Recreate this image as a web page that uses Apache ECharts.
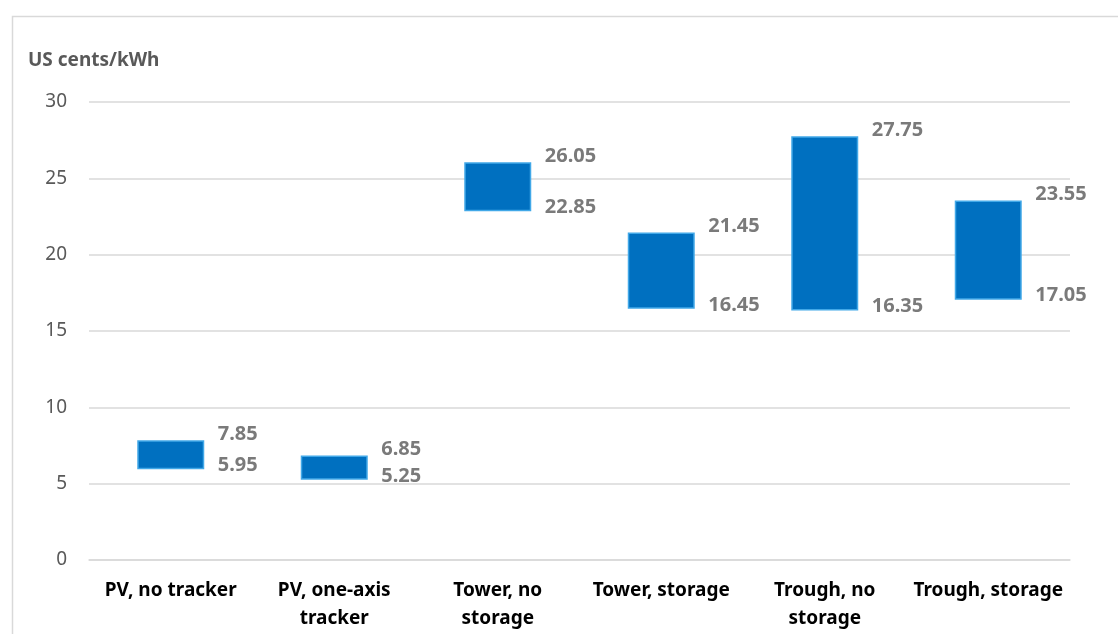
<!DOCTYPE html>
<html>
<head>
<meta charset="utf-8">
<script src="https://cdn.jsdelivr.net/npm/echarts@6/dist/echarts.min.js"></script>
<style>
  html, body { margin: 0; padding: 0; background: #fff; }
  #chart { width: 1118px; height: 634px; }
</style>
</head>
<body>
<div id="chart"></div>
<script>
// Levelised cost ranges by technology (US cents/kWh)
const categories = [
  'PV, no tracker',
  'PV, one-axis\ntracker',
  'Tower, no\nstorage',
  'Tower, storage',
  'Trough, no\nstorage',
  'Trough, storage'
];
const lowValues  = [5.95, 5.25, 22.85, 16.45, 16.35, 17.05];
const highValues = [7.85, 6.85, 26.05, 21.45, 27.75, 23.55];
const yTicks = { min: 0, max: 30, interval: 5 };

const FONT = '"Noto Sans", "Open Sans", sans-serif';
const GREY = '#595959';
const BAR = '#0070C0';
const BAR_EDGE = '#41A8E8';

const spans = highValues.map((h, i) => +(h - lowValues[i]).toFixed(2));

const valueLabel = (dy) => ({
  show: true,
  position: 'right',
  distance: 47,
  offset: [0, dy],
  color: GREY,
  fontFamily: FONT,
  fontWeight: 'bold',
  fontSize: 20,
  formatter: (p) => p.value.toFixed(2)
});

const chart = echarts.init(document.getElementById('chart'), null, { renderer: 'canvas' });

chart.setOption({
  animation: false,
  backgroundColor: '#ffffff',
  graphic: [{
    type: 'rect',
    left: 10, top: 14,
    shape: { width: 1130, height: 650 },
    style: { fill: 'none', stroke: '#D9D9D9', lineWidth: 1.5 },
    silent: true
  }, {
    type: 'text',
    left: 28, top: 51,
    style: {
      text: 'US cents/kWh',
      fill: GREY,
      font: 'bold 19px ' + FONT
    }
  }],
  grid: { left: 89, right: 48, top: 102, bottom: 74, containLabel: false },
  xAxis: {
    type: 'category',
    data: categories,
    axisLine: { show: true, lineStyle: { color: '#D9D9D9', width: 1.5 } },
    axisTick: { show: false },
    axisLabel: {
      color: '#000',
      fontFamily: FONT,
      fontWeight: 'bold',
      fontSize: 19,
      lineHeight: 28,
      margin: 17,
      interval: 0
    }
  },
  yAxis: {
    type: 'value',
    min: yTicks.min,
    max: yTicks.max,
    interval: yTicks.interval,
    axisLine: { show: false },
    axisTick: { show: false },
    axisLabel: { color: GREY, fontFamily: FONT, fontSize: 19, margin: 22 },
    splitLine: { lineStyle: { color: '#D9D9D9', width: 1.5 } }
  },
  series: [
    {
      name: 'base',
      type: 'bar',
      stack: 'range',
      data: lowValues,
      barWidth: 67,
      itemStyle: { color: 'transparent' },
      silent: true
    },
    {
      name: 'range',
      type: 'bar',
      stack: 'range',
      data: spans,
      barWidth: 67,
      itemStyle: { color: BAR, borderColor: BAR_EDGE, borderWidth: 1.5 }
    },
    {
      name: 'high',
      type: 'scatter',
      data: highValues,
      symbolSize: 0,
      label: valueLabel(-6),
      z: 5
    },
    {
      name: 'low',
      type: 'scatter',
      data: lowValues,
      symbolSize: 0,
      label: valueLabel(-4),
      z: 5
    }
  ]
});
</script>
</body>
</html>
